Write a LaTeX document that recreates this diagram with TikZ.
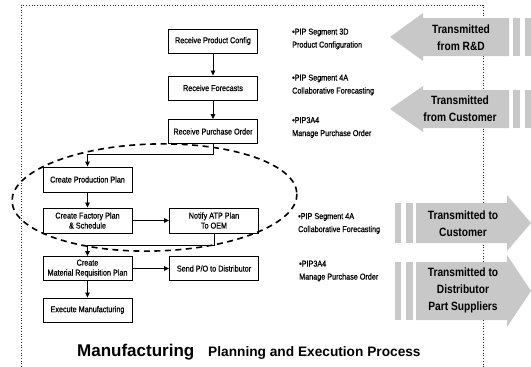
\documentclass[tikz,border=0pt]{standalone}
\usepackage{fontspec}
\setmainfont{Liberation Sans}
\newfontfamily\nar[FakeStretch=0.85,FakeBold=0.8]{Liberation Sans}
\newfontfamily\narb[FakeStretch=0.85]{Liberation Sans}
\usetikzlibrary{arrows.meta}
\definecolor{arrowgray}{RGB}{200,200,200}
\definecolor{framegray}{RGB}{40,40,40}
\begin{document}
\begin{tikzpicture}[x=1pt,y=-1pt,
  box/.style={draw,line width=0.9pt,minimum width=89pt,minimum height=24pt,inner sep=0pt,align=center,font=\nar\fontsize{8.5}{10}\selectfont},
  conn/.style={line width=0.8pt,-{Triangle[length=5pt,width=4.5pt]}},
  note/.style={anchor=west,align=left,inner sep=0pt,font=\nar\fontsize{8.5}{13}\selectfont},
  bigarrow/.style={fill=arrowgray},
  stripe/.style={fill=arrowgray},
  atext/.style={font=\narb\bfseries\fontsize{12}{17}\selectfont,align=center,inner sep=0pt},
  frame/.style={draw=framegray,line width=0.9pt,dash pattern=on 0.9pt off 1.8pt},
  group/.style={line width=1.6pt,dash pattern=on 6pt off 4.5pt}
]
\useasboundingbox (0,0) rectangle (531,367);

% dotted frame
\draw[frame] (21,367) -- (21,5) -- (483,5) -- (483,367);

% flow boxes
\node[box] (b1) at (213,41) {Receive Product Config};
\node[box] (b2) at (213,88) {Receive Forecasts};
\node[box] (b3) at (213,131.5) {Receive Purchase Order};
\node[box,minimum height=25pt] (b4) at (87.5,179.5) {Create Production Plan};
\node[box,minimum height=25pt] (b5) at (87.5,220.5) {Create Factory Plan\\ \& Schedule};
\node[box,minimum height=25pt] (b6) at (214,220.5) {Notify ATP Plan\\To OEM};
\node[box] (b7) at (87.5,268.5) {Create\\Material Requisition Plan};
\node[box] (b8) at (214,268.5) {Send P/O to Distributor};
\node[box] (b9) at (87.5,310) {Execute Manufacturing};

% connectors
\draw[conn] (b1) -- (b2);
\draw[conn] (b2) -- (b3);
\draw[conn] (b3.south) -- ++(0,10) -| (b4.north);
\draw[conn] (b4) -- (b5);
\draw[conn] (b5) -- (b6);
\draw[conn] (b6.south) -- ++(0,12) -| (b7.north);
\draw[conn] (b7) -- (b8);
\draw[conn] (b7) -- (b9);

% dashed grouping ellipse
\draw[group,rotate around={1.5:(154.5,197.5)}] (154.5,197.5) ellipse [x radius=142.5, y radius=53.5];

% notes
\node[note] (n1) at (292,39) {•PIP Segment 3D\\Product Configuration};
\node[note] (n2) at (292,85) {•PIP Segment 4A\\Collaborative Forecasting};
\node[note] (n3) at (292,127.5) {•PIP3A4\\Manage Purchase Order};
\node[note] (n4) at (298,223.5) {•PIP Segment 4A\\Collaborative Forecasting};
\node[note] (n5) at (299,271) {•PIP3A4\\Manage Purchase Order};

% big arrows (left pointing)
\fill[bigarrow] (390,37) -- (423,13) -- (423,18) -- (509,18) -- (509,56) -- (423,56) -- (423,61) -- cycle;
\fill[stripe] (513,18) rectangle (520,56);
\fill[stripe] (525,18) rectangle (531,56);
\node[atext] (a1) at (461,37.5) {Transmitted\\from R\&D};

\fill[bigarrow] (390,109) -- (423,86) -- (423,90) -- (509,90) -- (509,128) -- (423,128) -- (423,132) -- cycle;
\fill[stripe] (513,90) rectangle (520,128);
\fill[stripe] (525,90) rectangle (531,128);
\node[atext] (a2) at (460,109) {Transmitted\\from Customer};

% big arrows (right pointing)
\fill[stripe] (395,203) rectangle (401,243);
\fill[stripe] (406,203) rectangle (413,243);
\fill[bigarrow] (416,203) -- (507,203) -- (507,195) -- (531,223) -- (507,251) -- (507,243) -- (416,243) -- cycle;
\node[atext] (a3) at (463,224) {Transmitted to\\Customer};

\fill[stripe] (395,262) rectangle (401,320);
\fill[stripe] (406,262) rectangle (413,320);
\fill[bigarrow] (416,262) -- (507,262) -- (507,255) -- (531,291) -- (507,327) -- (507,320) -- (416,320) -- cycle;
\node[atext] (a4) at (463,290) {Transmitted to\\Distributor\\Part Suppliers};

% title
\node[anchor=base west,inner sep=0pt,font=\bfseries\fontsize{17}{17}\selectfont] (title) at (77,356) {Manufacturing};
\node[anchor=base west,inner sep=0pt,font=\bfseries\fontsize{13.7}{14}\selectfont] (sub) at (208,356) {Planning and Execution Process};
\end{tikzpicture}
\end{document}
